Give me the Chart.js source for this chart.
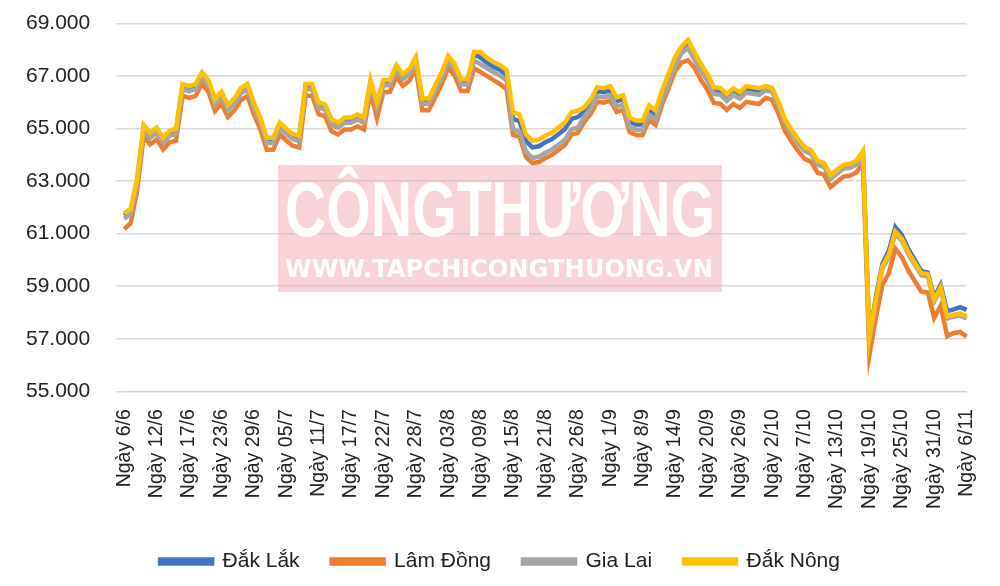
<!DOCTYPE html>
<html><head><meta charset="utf-8">
<script src="https://cdn.jsdelivr.net/npm/chart.js@4"></script>
<style>html,body{margin:0;padding:0;background:#fff;overflow:hidden}#w{width:1000px;height:601px;margin-top:-15px}</style>
</head><body><div id="w"><canvas id="c"></canvas></div>
<script>
const tickLabels=["Ngày 6/6","Ngày 12/6","Ngày 17/6","Ngày 23/6","Ngày 29/6","Ngày 05/7","Ngày 11/7","Ngày 17/7","Ngày 22/7","Ngày 28/7","Ngày 03/8","Ngày 09/8","Ngày 15/8","Ngày 21/8","Ngày 26/8","Ngày 1/9","Ngày 8/9","Ngày 14/9","Ngày 20/9","Ngày 26/9","Ngày 2/10","Ngày 7/10","Ngày 13/10","Ngày 19/10","Ngày 25/10","Ngày 31/10","Ngày 6/11"];
const dakNong=[61770,61960,63100,65150,64850,65040,64650,64920,65000,66700,
66620,66700,67150,66850,66120,66400,65900,66150,66540,66700,
66000,65420,64650,64650,65230,65000,64800,64730,66700,66700,
66000,65920,65350,65230,65420,65420,65540,65420,66850,66000,
66850,66850,67420,67080,67270,67730,66150,66150,66650,67150,
67770,67460,66880,66880,67920,67920,67690,67540,67420,67230,
65620,65540,64770,64540,64580,64730,64850,65040,65230,65620,
65690,65810,66120,66580,66540,66620,66190,66270,65420,65310,
65310,65880,65690,66460,67080,67730,68120,68380,67920,67460,
67080,66580,66540,66310,66540,66390,66620,66580,66540,66620,
66550,66000,65350,64950,64600,64300,64190,63770,63700,63230,
63430,63620,63660,63780,64150,57040,58500,59750,60200,61080,
60810,60300,59900,59500,59460,58500,58960,57850,57920,57960,57850];
const dakLak=[61690,61880,63020,65070,64770,64960,64570,64840,64920,66620,
66540,66620,67070,66770,66040,66320,65820,66070,66460,66620,
65920,65340,64570,64570,65150,64920,64720,64650,66620,66620,
65920,65840,65270,65150,65340,65340,65460,65340,66770,65920,
66770,66770,67340,67000,67190,67650,66070,66070,66570,67070,
67690,67380,66800,66800,67840,67700,67500,67350,67230,67050,
65370,65290,64520,64290,64330,64480,64600,64790,64980,65370,65440,
65660,65970,66430,66390,66470,66040,66120,65270,65160,65160,65730,65540,66310,66930,67580,
67970,68230,67770,67310,66930,66430,66390,66160,66390,66240,66470,66430,66390,
66520,66450,65900,65250,64850,64500,64200,64090,63670,63600,63130,63330,63520,63560,63680,64050,
57000,
58600,59850,60350,61250,60950,60420,60000,59580,59520,58580,59050,58050,58120,58200,58100];
const giaLai=[61570,61760,62900,64950,64650,64840,64450,64720,64800,66500,
66420,66500,66950,66650,65920,66200,65700,65950,66340,66500,
65800,65220,64450,64450,65030,64800,64600,64530,66500,66500,
65800,65720,65150,65030,65220,65220,65340,65220,66650,65800,
66650,66650,67220,66880,67070,67530,65950,65950,66450,66950,
67570,67260,66680,66680,67600,67450,67300,67150,67020,66850,
64970,64890,64120,63890,63930,64080,64200,64390,64580,64970,65040,
65460,65770,66230,66190,66270,65840,65920,65070,64960,64960,65530,65340,66110,66730,67380,
67870,68080,67620,67210,66830,66330,66290,66060,66290,66140,66370,66330,66290,
66470,66400,65850,65200,64800,64450,64150,64040,63620,63550,63080,63280,63470,63510,63630,64000,
56900,
58420,59670,60120,61000,60730,60220,59820,59420,59380,58420,58880,57770,57840,57880,57770];
const lamDong=[61170,61400,62650,64700,64400,64590,64200,64470,64550,66250,
66170,66250,66700,66400,65670,65950,65450,65700,66090,66250,
65550,64970,64200,64200,64780,64550,64350,64280,66250,66250,
65550,65470,64900,64780,64970,64970,65090,64970,66400,65400,
66400,66400,66970,66630,66820,67280,65700,65700,66200,66700,
67320,67010,66430,66430,67300,67150,67000,66850,66700,66500,
64770,64690,63920,63690,63730,63880,64000,64190,64380,64770,64840,
65260,65570,66030,65990,66070,65640,65720,64870,64760,64760,65330,65140,65910,66530,67180,
67520,67600,67320,66860,66480,65980,65940,65710,65940,65790,66020,65980,65940,
66170,66100,65550,64900,64500,64150,63850,63740,63320,63250,62780,62980,63170,63210,63330,63700,
56380,
57800,59050,59500,60430,60110,59600,59200,58800,58760,57800,58260,57100,57220,57260,57080];
const seriesNames=["Đắk Lắk","Lâm Đồng","Gia Lai","Đắk Nông"];
const categories=dakNong.map((_,i)=>i%5===0?tickLabels[i/5]:"");

function fitText(c,t,cx,cy,w){const m=c.measureText(t).width;c.save();c.translate(cx,cy);c.scale(w/m,1);c.fillText(t,0,0);c.restore();}
const watermark={id:'wm',beforeDatasetsDraw(ch){const c=ch.ctx;c.save();
c.fillStyle='rgba(240,160,170,0.45)';c.fillRect(278,180,444,127);
c.fillStyle='#fff';c.textAlign='center';c.textBaseline='middle';
c.font='bold 78px "Liberation Sans",sans-serif';
fitText(c,'CÔNGTHƯƠNG',500,229,430);
c.font='bold 24px "DejaVu Sans",sans-serif';
fitText(c,'WWW.TAPCHICONGTHUONG.VN',499,286,428);c.restore();}};

const cols=['#4472C4','#ED7D31','#A5A5A5','#FFC000'];
const data=[dakLak,lamDong,giaLai,dakNong];
new Chart(document.getElementById('c'),{type:'line',
data:{labels:categories,datasets:data.map((d,i)=>({label:seriesNames[i],data:d,order:4-i,borderColor:cols[i],backgroundColor:cols[i],borderWidth:4.5,pointRadius:0,tension:0}))},
options:{responsive:true,maintainAspectRatio:false,animation:false,
layout:{padding:{left:0,right:0,top:0,bottom:4}},
plugins:{legend:{position:'bottom',labels:{sort:(a,b)=>a.datasetIndex-b.datasetIndex,boxWidth:52,boxHeight:4,padding:32,color:'#222',font:{size:21,family:'"Liberation Sans",Arial,sans-serif'}}},tooltip:{enabled:false}},
scales:{
x:{grid:{display:false},border:{color:'#d0d0d0'},ticks:{autoSkip:false,maxRotation:90,minRotation:90,color:'#222',padding:10,font:{size:19.5,family:'"Liberation Sans",Arial,sans-serif'},callback:(v,i)=>categories[i]}},
y:{min:55000,max:69000,grid:{color:'#d9d9d9',lineWidth:1.5},border:{display:false},
ticks:{stepSize:2000,color:'#222',padding:26,font:{size:21,family:'"Liberation Sans",Arial,sans-serif'},callback:v=>v.toLocaleString('de-DE')}}}
},plugins:[watermark]});
</script></body></html>
